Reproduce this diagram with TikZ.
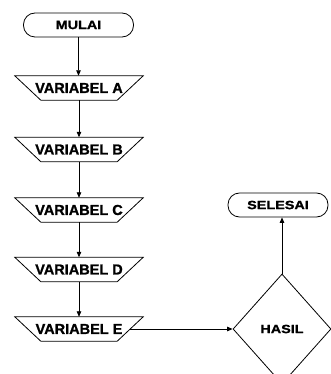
\documentclass[tikz,border=0pt]{standalone}
\usepackage{fontspec}
\setmainfont{Liberation Sans}[FakeBold=1.2]
\newfontfamily\widesans[FakeStretch=1.2,FakeBold=1.2]{Liberation Sans}
\usetikzlibrary{shapes.geometric,arrows.meta}

% input/output block: slanted sides drawn around a plain node
\newcommand\ioshape[1]{%
  \draw[flow] ([xshift=-13pt]#1.north west) -- ([xshift=13pt]#1.north east)
    -- ([xshift=-13pt]#1.south east) -- ([xshift=13pt]#1.south west) -- cycle;}

\tikzset{
  flow/.style={line width=0.8pt, draw=black},
  arr/.style={flow, -{Triangle[length=5.5pt,width=4.5pt]}},
  termbox/.style={flow, rounded corners=11.5pt, minimum width=110pt,
    minimum height=24pt, inner sep=0pt,
    font=\widesans\bfseries\fontsize{12}{12}\selectfont},
  iobox/.style={minimum width=102pt, minimum height=24pt, inner sep=0pt,
    font=\bfseries\fontsize{14.5}{14.5}\selectfont},
  decbox/.style={flow, diamond, minimum width=98pt, minimum height=110pt,
    inner sep=0pt, font=\widesans\bfseries\fontsize{12}{12}\selectfont},
}

\begin{document}
\begin{tikzpicture}[x=1pt,y=1pt]
  \useasboundingbox (0,0) rectangle (331,-374);
  \clip (0,0) rectangle (331,-374);

  \node[termbox] (mulai) at (78.5,-25) {MULAI};

  \node[iobox] (va) at (79,-88)    {VARIABEL A};
  \node[iobox] (vb) at (79,-149.5) {VARIABEL B};
  \node[iobox] (vc) at (79,-210)   {VARIABEL C};
  \node[iobox] (vd) at (79,-269.5) {VARIABEL D};
  \node[iobox] (ve) at (79,-329)   {VARIABEL E};
  \foreach \n in {va,vb,vc,vd,ve} {\ioshape{\n}}

  \node[decbox] (hasil) at (282,-329) {HASIL};
  \node[termbox, minimum width=100pt] (selesai) at (278,-205) {SELESAI};

  \draw[arr] (mulai.south) -- (mulai.south |- va.north);
  \draw[arr] (va.south) -- (vb.north);
  \draw[arr] (vb.south) -- (vc.north);
  \draw[arr] (vc.south) -- (vd.north);
  \draw[arr] (vd.south) -- (ve.north);
  \draw[arr] (ve.east) -- (hasil.west);
  \draw[arr] (hasil.north) -- (hasil.north |- selesai.south);
\end{tikzpicture}
\end{document}
